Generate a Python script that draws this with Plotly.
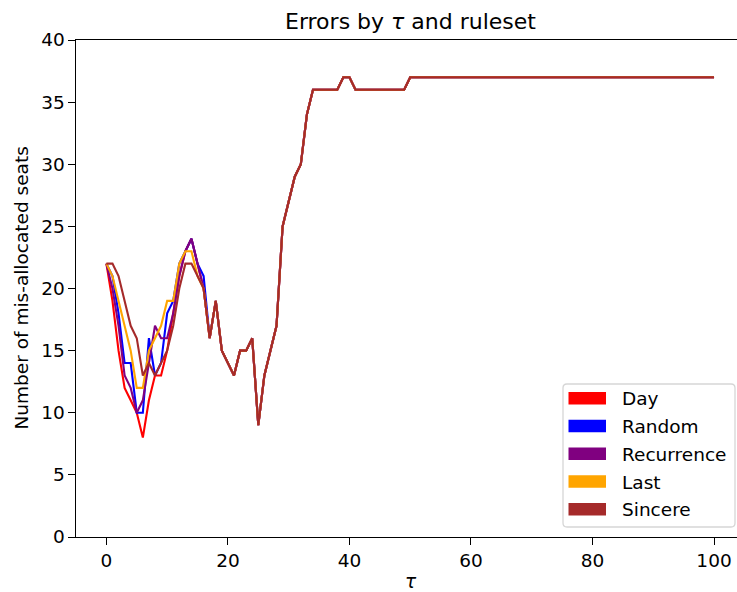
import plotly.graph_objects as go

# ---- data ----
tau = list(range(0, 101))

# values for tau = 0..16 per ruleset
day_head = [22, 19, 15, 12, 11, 10, 8, 11, 13, 13, 15, 18, 21, 23, 24, 22, 20]
random_head = [22, 21, 18, 14, 14, 10, 10, 16, 13, 14, 18, 19, 22, 23, 24, 22, 21]
recurrence_head = [22, 20, 17, 13, 12, 10, 11, 14, 17, 16, 16, 18, 21, 23, 24, 22, 20]
last_head = [22, 21, 19, 17, 15, 12, 12, 15, 16, 17, 19, 19, 22, 23, 23, 21, 20]
sincere_head = [22, 22, 21, 19, 17, 16, 13, 14, 13, 14, 15, 17, 20, 22, 22, 21, 20]

# shared values for tau = 17..100 (all rulesets coincide)
shared_tail = [16, 19, 15, 14, 13, 15, 15, 16, 9, 13, 15, 17, 25, 27, 29, 30, 34,
               36, 36, 36, 36, 36, 37, 37, 36, 36, 36, 36, 36, 36, 36, 36, 36,
               37, 37, 37, 37, 37, 37, 37, 37, 37, 37, 37, 37, 37, 37, 37, 37,
               37, 37, 37, 37, 37, 37, 37, 37, 37, 37, 37, 37, 37, 37, 37, 37,
               37, 37, 37, 37, 37, 37, 37, 37, 37, 37, 37, 37, 37, 37, 37, 37,
               37, 37, 37]

rulesets = ["Day", "Random", "Recurrence", "Last", "Sincere"]
heads = [day_head, random_head, recurrence_head, last_head, sincere_head]
colors = ["#ff0000", "#0000ff", "#800080", "#ffa500", "#a52a2a"]

x_ticks = [0, 20, 40, 60, 80, 100]
y_ticks = [0, 5, 10, 15, 20, 25, 30, 35, 40]

# ---- layout geometry (pixels) ----
W, H = 737, 592
L, T, B, R = 76, 40, 55, 0
PW, PH = W - L - R, H - T - B


def px(xp):
    return (xp - L) / PW


def py(yp):
    return (H - B - yp) / PH


FONT = "DejaVu Sans"
FS = 18.5

fig = go.Figure()
for name, head, col in zip(rulesets, heads, colors):
    fig.add_trace(go.Scatter(
        x=tau, y=head + shared_tail, mode="lines", name=name,
        line=dict(color=col, width=2.1), showlegend=False,
    ))

# manual legend (matplotlib style patches)
shapes = []
annotations = []
x0, x1, y0, y1 = 563, 735, 384, 527
r = 4
path = (f"M {px(x0 + r)},{py(y0)} L {px(x1 - r)},{py(y0)} "
        f"Q {px(x1)},{py(y0)} {px(x1)},{py(y0 + r)} "
        f"L {px(x1)},{py(y1 - r)} Q {px(x1)},{py(y1)} {px(x1 - r)},{py(y1)} "
        f"L {px(x0 + r)},{py(y1)} Q {px(x0)},{py(y1)} {px(x0)},{py(y1 - r)} "
        f"L {px(x0)},{py(y0 + r)} Q {px(x0)},{py(y0)} {px(x0 + r)},{py(y0)} Z")
shapes.append(dict(type="path", xref="paper", yref="paper", path=path,
                   line=dict(color="#d6d6d6", width=1.3), fillcolor="rgba(255,255,255,0.8)",
                   layer="above"))
row_y = [398.3, 426, 453.7, 481.5, 509.3]
for name, col, yc in zip(rulesets, colors, row_y):
    shapes.append(dict(type="rect", xref="paper", yref="paper",
                       x0=px(568.5), x1=px(606), y0=py(yc - 6.2), y1=py(yc + 6.2),
                       fillcolor=col, line=dict(width=0), layer="above"))
    annotations.append(dict(text=name, xref="paper", yref="paper", x=px(620),
                            y=py(yc + 0.5), xanchor="left", yanchor="middle", showarrow=False,
                            font=dict(family=FONT, size=FS, color="black")))

# title and axis labels
annotations.append(dict(text="Errors by <i>τ</i> and ruleset", xref="paper", yref="paper",
                        x=px(411), y=py(21), xanchor="center", yanchor="middle",
                        showarrow=False, font=dict(family=FONT, size=22, color="black")))
annotations.append(dict(text="<i>τ</i>", xref="paper", yref="paper",
                        x=px(411), y=py(581), xanchor="center", yanchor="middle",
                        showarrow=False, font=dict(family=FONT, size=FS, color="black")))
annotations.append(dict(text="Number of mis-allocated seats", xref="paper", yref="paper",
                        x=px(21), y=py(288.5), xanchor="center", yanchor="middle", textangle=-90,
                        showarrow=False, font=dict(family=FONT, size=FS, color="black")))

fig.update_layout(
    width=W, height=H,
    margin=dict(l=L, r=R, t=T, b=B, pad=0),
    paper_bgcolor="white", plot_bgcolor="white",
    font=dict(family=FONT, size=FS, color="black"),
    shapes=shapes, annotations=annotations,
    showlegend=False,
)
fig.update_xaxes(range=[-5, 103.78], tickvals=x_ticks, ticktext=[str(v) for v in x_ticks],
                 showgrid=False, zeroline=False, showline=True, linecolor="black", linewidth=1.2,
                 mirror=True, ticks="outside", ticklen=6.5, tickwidth=1.2, tickcolor="black",
                 tickfont=dict(family=FONT, size=FS))
fig.update_yaxes(range=[0, 40], tickvals=y_ticks, ticktext=[str(v) for v in y_ticks],
                 showgrid=False, zeroline=False, showline=True, linecolor="black", linewidth=1.2,
                 mirror=False, ticks="outside", ticklen=6.5, tickwidth=1.2, tickcolor="black",
                 tickfont=dict(family=FONT, size=FS))

fig.write_html("out.html", config={"displayModeBar": False},
               post_script="document.body.style.margin='0';")
